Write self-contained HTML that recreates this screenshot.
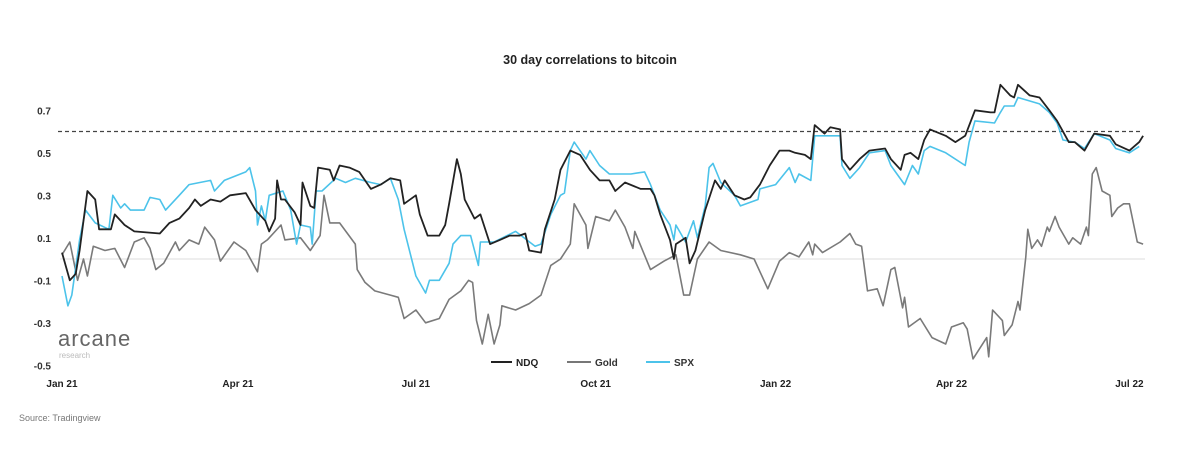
<!DOCTYPE html>
<html><head><meta charset="utf-8"><style>
html,body{margin:0;padding:0;background:#fff;width:1200px;height:451px;overflow:hidden}
svg text{font-family:"Liberation Sans",sans-serif}
</style></head><body>
<svg id="chart" width="1200" height="451" viewBox="0 0 1200 451">
<text x="590" y="64" text-anchor="middle" font-size="12.5" font-weight="bold" fill="#222">30 day correlations to bitcoin</text>
<g id="yaxis"></g>
<g id="xaxis"></g>
<g id="series"></g>
<g>
<text x="58" y="346" font-size="22" fill="#666" letter-spacing="1">arcane</text>
<text x="59" y="358" font-size="8" fill="#bbb">research</text>
</g>
<g>
<g><line x1="491" y1="362" x2="512" y2="362" stroke="#222" stroke-width="2"/><text x="516" y="366" font-size="10" font-weight="bold" fill="#222">NDQ</text></g>
<g><line x1="567" y1="362" x2="591" y2="362" stroke="#777" stroke-width="2"/><text x="595" y="366" font-size="10" font-weight="bold" fill="#333">Gold</text></g>
<g><line x1="646" y1="362" x2="670" y2="362" stroke="#4cc3ea" stroke-width="2"/><text x="674" y="366" font-size="10" font-weight="bold" fill="#333">SPX</text></g>
</g>
<text x="19" y="421" font-size="9" fill="#777">Source: Tradingview</text>
</svg>
<script>
const xTickLabels = ["Jan 21","Apr 21","Jul 21","Oct 21","Jan 22","Apr 22","Jul 22"];
const xTickDays = [0,90,181,273,365,455,546];
const yTicks = [0.7,0.5,0.3,0.1,-0.1,-0.3,-0.5];
const refLevel = 0.6;
const ndqDays = [0,4,7,9,13,17,19,25,27,32,37,50,55,60,65,68,71,76,81,86,94,99,104,106,109,110,112,114,119,122,123,127,129,131,137,139,142,147,152,158,163,168,173,175,181,183,187,193,196,198,202,204,206,211,214,219,224,229,234,237,239,245,247,252,255,260,265,270,275,280,283,288,296,301,303,306,311,313,314,319,321,324,329,334,337,339,344,349,352,357,362,367,372,375,380,383,385,390,393,398,399,403,408,413,421,424,429,431,434,438,441,444,452,457,462,467,475,477,480,485,487,489,495,500,505,509,515,518,523,528,536,539,546,551,553];
const ndqValues = [0.03,-0.10,-0.07,0.04,0.32,0.28,0.14,0.14,0.21,0.16,0.13,0.12,0.17,0.19,0.24,0.28,0.25,0.28,0.27,0.30,0.31,0.23,0.18,0.13,0.19,0.37,0.28,0.28,0.22,0.16,0.36,0.25,0.24,0.43,0.42,0.37,0.44,0.43,0.41,0.33,0.35,0.38,0.37,0.26,0.30,0.21,0.11,0.11,0.16,0.26,0.47,0.40,0.28,0.19,0.21,0.07,0.09,0.11,0.11,0.12,0.04,0.03,0.14,0.28,0.42,0.51,0.49,0.42,0.37,0.37,0.32,0.36,0.33,0.33,0.30,0.21,0.09,0.00,0.07,0.10,-0.02,0.04,0.23,0.37,0.33,0.37,0.30,0.28,0.29,0.35,0.44,0.51,0.51,0.50,0.49,0.47,0.63,0.59,0.62,0.61,0.47,0.42,0.47,0.51,0.52,0.47,0.42,0.49,0.50,0.47,0.56,0.61,0.58,0.55,0.58,0.70,0.69,0.69,0.82,0.77,0.76,0.82,0.77,0.76,0.70,0.65,0.55,0.55,0.51,0.59,0.58,0.54,0.51,0.55,0.58];
const spxDays = [0,3,5,9,12,17,24,26,30,32,35,42,45,50,53,60,65,76,78,83,94,96,99,100,102,104,106,113,117,120,122,127,128,130,133,140,145,150,158,163,168,172,175,181,186,188,193,198,200,204,209,213,214,221,232,242,245,250,255,257,260,262,268,270,275,280,291,298,301,306,311,313,314,319,323,325,329,331,333,337,344,347,356,357,365,372,375,377,383,385,398,399,403,408,413,421,424,431,435,438,441,444,452,462,464,467,477,480,482,487,489,500,505,509,512,518,523,528,536,539,546,551];
const spxValues = [-0.08,-0.22,-0.17,0.09,0.23,0.17,0.14,0.30,0.24,0.26,0.23,0.23,0.29,0.28,0.23,0.30,0.35,0.37,0.32,0.37,0.41,0.43,0.32,0.16,0.25,0.18,0.30,0.32,0.23,0.07,0.16,0.15,0.07,0.32,0.32,0.38,0.36,0.38,0.36,0.35,0.38,0.28,0.14,-0.08,-0.16,-0.10,-0.10,-0.02,0.07,0.11,0.11,-0.03,0.08,0.08,0.13,0.06,0.07,0.21,0.30,0.31,0.51,0.55,0.47,0.51,0.44,0.40,0.40,0.41,0.35,0.23,0.16,0.09,0.16,0.08,0.18,0.10,0.25,0.43,0.45,0.36,0.30,0.25,0.28,0.33,0.35,0.43,0.36,0.40,0.37,0.58,0.58,0.44,0.38,0.43,0.50,0.51,0.44,0.35,0.44,0.40,0.51,0.53,0.50,0.44,0.55,0.65,0.64,0.69,0.72,0.72,0.76,0.73,0.69,0.64,0.56,0.55,0.52,0.59,0.56,0.52,0.50,0.53];
const goldDays = [0,4,8,11,13,16,22,27,32,37,42,45,48,52,58,60,65,70,73,78,81,88,94,100,102,105,112,114,122,127,132,134,137,142,150,151,155,160,168,172,175,181,186,193,198,204,208,210,212,215,218,221,224,225,232,239,245,250,255,260,262,268,269,273,280,283,288,292,293,301,308,314,318,321,325,331,337,347,354,361,367,372,377,382,384,385,389,398,403,406,409,412,417,420,424,426,430,431,433,439,445,452,455,461,463,466,473,474,476,481,482,486,489,490,493,494,496,499,501,504,505,508,510,515,517,521,524,525,527,529,532,536,537,540,543,546,550,553];
const goldValues = [0.02,0.08,-0.10,0.00,-0.08,0.06,0.04,0.05,-0.04,0.08,0.10,0.05,-0.05,-0.02,0.08,0.04,0.09,0.07,0.15,0.09,-0.01,0.08,0.04,-0.06,0.07,0.09,0.16,0.09,0.10,0.04,0.11,0.30,0.17,0.17,0.07,-0.05,-0.11,-0.15,-0.17,-0.18,-0.28,-0.24,-0.30,-0.28,-0.19,-0.15,-0.10,-0.11,-0.29,-0.40,-0.26,-0.40,-0.31,-0.22,-0.24,-0.21,-0.17,-0.03,0.00,0.07,0.26,0.16,0.05,0.20,0.18,0.23,0.15,0.05,0.13,-0.05,-0.01,0.02,-0.17,-0.17,0.00,0.08,0.04,0.02,0.00,-0.14,-0.01,0.03,0.01,0.08,0.02,0.07,0.03,0.08,0.12,0.07,0.06,-0.15,-0.14,-0.22,-0.05,-0.04,-0.23,-0.18,-0.32,-0.28,-0.37,-0.40,-0.32,-0.30,-0.33,-0.47,-0.37,-0.46,-0.24,-0.29,-0.36,-0.31,-0.20,-0.24,0.01,0.14,0.05,0.09,0.06,0.15,0.13,0.20,0.15,0.07,0.10,0.07,0.15,0.11,0.40,0.43,0.32,0.30,0.20,0.24,0.26,0.26,0.08,0.07];

const NS = "http://www.w3.org/2000/svg";
const xScale = d => 62 + d * 1.955;
const yScale = v => 259 - v * 212.5;
function mk(tag, attrs, parent){const e=document.createElementNS(NS,tag);for(const k in attrs)e.setAttribute(k,attrs[k]);parent.appendChild(e);return e;}
const yG=document.getElementById('yaxis'), xG=document.getElementById('xaxis'), sG=document.getElementById('series');
yTicks.forEach(t=>{
  const el=mk('text',{x:51,y:yScale(t)+4,'text-anchor':'end','font-size':'10','font-weight':'bold',fill:'#333'},yG);
  el.textContent=t.toFixed(1);
  
  
});
xTickLabels.forEach((l,i)=>{
  const el=mk('text',{x:xScale(xTickDays[i]),y:387,'text-anchor':'middle','font-size':'10','font-weight':'bold',fill:'#222'},xG);
  el.textContent=l;
  
  
});
const zero=mk('line',{x1:60,x2:1145,y1:yScale(0),y2:yScale(0),stroke:'#ddd','stroke-width':1},sG);


const ref=mk('line',{x1:58,x2:1143,y1:yScale(refLevel),y2:yScale(refLevel),stroke:'#444','stroke-width':1.2,'stroke-dasharray':'4,3'},sG);


function line(days,vals,color,w){
  const d=days.map((x,i)=>(i?'L':'M')+xScale(x).toFixed(1)+','+yScale(vals[i]).toFixed(1)).join('');
  return mk('path',{d:d,fill:'none',stroke:color,'stroke-width':w,'stroke-linejoin':'round'},sG);
}
const g=line(goldDays,goldValues,'#7a7a7a',1.6);


const s=line(spxDays,spxValues,'#4cc3ea',1.6);


const n=line(ndqDays,ndqValues,'#222',1.8);


</script>
</body></html>
